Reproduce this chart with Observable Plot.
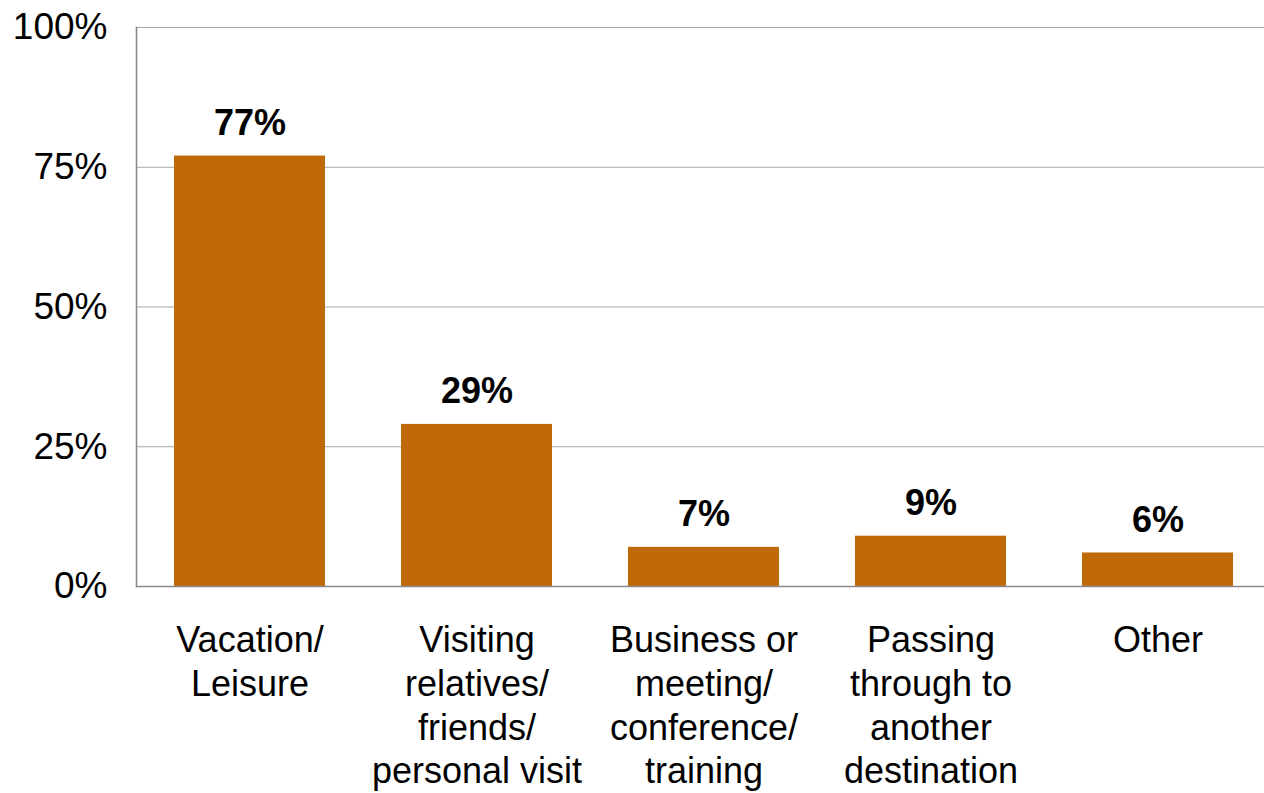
<!DOCTYPE html>
<html><head><meta charset="utf-8">
<script src="https://cdn.jsdelivr.net/npm/d3@7"></script>
<script src="https://cdn.jsdelivr.net/npm/@observablehq/plot@0.6"></script>
<style>html,body{margin:0;padding:0;background:#fff;overflow:hidden}</style>
</head><body><div id="chart"></div>
<script>
const categories = [
  "Vacation/\nLeisure",
  "Visiting\nrelatives/\nfriends/\npersonal visit",
  "Business or\nmeeting/\nconference/\ntraining",
  "Passing\nthrough to\nanother\ndestination",
  "Other"
];
const values = [77, 29, 7, 9, 6];
const yTicks = [0, 25, 50, 75, 100];
const data = categories.map((c, i) => ({category: c, value: values[i]}));

const chart = Plot.plot({
  width: 1264, height: 793,
  marginTop: 27, marginBottom: 207, marginLeft: 136, marginRight: 0,
  style: {fontFamily: "'Liberation Sans', Arial, sans-serif", background: "#fff", overflow: "visible"},
  x: {domain: categories, range: [136, 1271], paddingInner: 0.335, paddingOuter: 0.1675},
  y: {domain: [0, 100]},
  marks: [
    Plot.gridY(yTicks, {stroke: "#a6a6a6", strokeOpacity: 1, strokeWidth: 1.2}),
    Plot.barY(data, {x: "category", y: "value", fill: "#BF6A06"}),
    Plot.ruleY([0], {stroke: "#898989", strokeWidth: 1.6}),
    Plot.frame({anchor: "left", stroke: "#898989", strokeWidth: 1.6}),
    Plot.text(data, {x: "category", y: "value", text: d => d.value + "%", dy: -21, lineAnchor: "bottom",
      fontWeight: "bold", fontSize: 36, fill: "#000"}),
    Plot.axisY(yTicks, {tickSize: 0, tickPadding: 29, tickFormat: d => d + "%", fontSize: 37, color: "#000", label: null}),
    Plot.axisX({tickSize: 0, tickPadding: 34, fontSize: 36, lineHeight: 1.22, color: "#000", label: null})
  ]
});
document.getElementById("chart").appendChild(chart);
</script>
</body></html>
